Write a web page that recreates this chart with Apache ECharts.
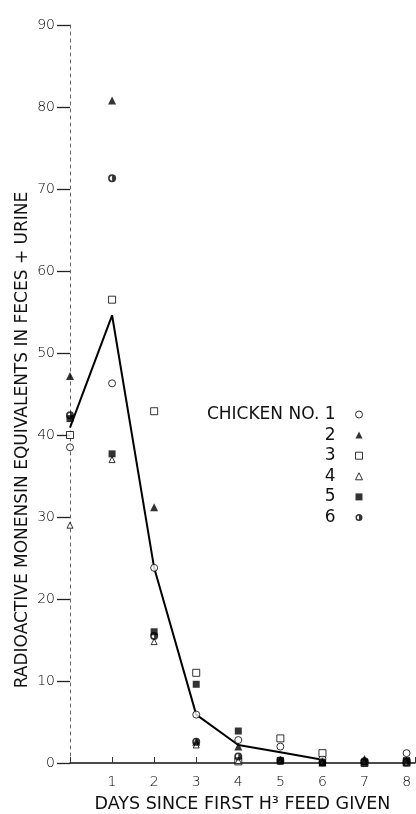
<!DOCTYPE html>
<html>
<head>
<meta charset="utf-8">
<script src="https://cdn.jsdelivr.net/npm/echarts@6/dist/echarts.min.js"></script>
<style>
html,body{margin:0;padding:0;background:#fff;}
#chart{width:416px;height:814px;}
</style>
</head>
<body>
<div id="chart"></div>
<script>
// ---- data ----
const days = [0, 1, 2, 3, 4, 5, 6, 7, 8];
const chicken1 = [38.5, 46.3, 23.8, 5.9, 2.8, 2.0, 0.5, 0.0, 1.2];
const chicken2 = [47.2, 80.8, 31.2, 2.6, 2.0, 0.4, 0.1, 0.5, 0.1];
const chicken3 = [40.0, 56.5, 42.9, 11.0, 0.2, 3.0, 1.2, 0.0, 0.1];
const chicken4 = [29.0, 37.0, 14.8, 2.2, 0.3, 0.2, 0.1, 0.1, 0.0];
const chicken5 = [42.0, 37.7, 16.0, 9.6, 3.9, 0.3, 0.0, 0.1, 0.3];
const chicken6 = [42.4, 71.3, 15.5, 2.6, 0.8, 0.3, 0.1, 0.2, 0.1];
const meanDays = [0, 1, 2, 3, 4, 5, 6];
const meanValues = [40.9, 54.6, 23.8, 5.9, 2.2, 1.3, 0.4];
const chickenNames = ['1', '2', '3', '4', '5', '6'];
const yTicks = [0, 10, 20, 30, 40, 50, 60, 70, 80, 90];
const xTicks = [1, 2, 3, 4, 5, 6, 7, 8];

const yTitle = 'RADIOACTIVE MONENSIN EQUIVALENTS IN FECES + URINE';
const xTitle = 'DAYS SINCE FIRST H\u00B3 FEED GIVEN';

const halfCircle = 'path://M0,-10A10,10,0,1,1,0,10A10,10,0,1,1,0,-10ZM0,-6A6,6,0,1,0,0,6A6,6,0,1,0,0,-6ZM0,-6A6,6,0,0,1,0,6Z';

const pairs = arr => days.map((d, i) => [d, arr[i]]);
const open = {color: '#fff', borderColor: '#000', borderWidth: 1};
const filled = {color: '#000', borderWidth: 0};

const seriesDefs = [
  {name: chickenNames[0], data: chicken1, symbol: 'circle', symbolSize: 7, itemStyle: open},
  {name: chickenNames[1], data: chicken2, symbol: 'triangle', symbolSize: 8, itemStyle: filled},
  {name: chickenNames[2], data: chicken3, symbol: 'rect', symbolSize: 7, itemStyle: open},
  {name: chickenNames[3], data: chicken4, symbol: 'triangle', symbolSize: 6, itemStyle: open},
  {name: chickenNames[4], data: chicken5, symbol: 'rect', symbolSize: 7, itemStyle: filled},
  {name: chickenNames[5], data: chicken6, symbol: halfCircle, symbolSize: 8, itemStyle: filled}
];

const FONT = 'DejaVu Sans';

const chart = echarts.init(document.getElementById('chart'), null, {renderer: 'canvas'});
chart.setOption({
  backgroundColor: '#fff',
  animation: false,
  grid: {left: 70, right: 1, top: 25, bottom: 51, outerBoundsMode: 'none'},
  xAxis: {
    type: 'value', min: 0, max: 8.2, interval: 1,
    name: xTitle, nameLocation: 'middle', nameGap: 32,
    nameTextStyle: {fontFamily: FONT, fontSize: 17.5, color: '#111'},
    axisLine: {show: true, lineStyle: {color: '#111', width: 1.5}},
    axisTick: {show: true, inside: true, length: 6, lineStyle: {color: '#333', width: 1}},
    axisLabel: {
      margin: 12, fontFamily: FONT, fontWeight: 200, fontSize: 14, color: '#000',
      formatter: v => (xTicks.indexOf(v) >= 0 ? String(v) : '')
    },
    splitLine: {show: false}
  },
  yAxis: {
    type: 'value', min: 0, max: 90, interval: 10,
    axisLine: {show: true, lineStyle: {color: '#666', width: 1, type: [3, 4]}},
    axisTick: {show: true, inside: false, length: 13, lineStyle: {color: '#222', width: 1.3}},
    axisLabel: {
      margin: 15, fontFamily: FONT, fontWeight: 200, fontSize: 14, color: '#000',
      formatter: v => (yTicks.indexOf(v) >= 0 ? String(v) : '')
    },
    splitLine: {show: false}
  },
  legend: {
    orient: 'vertical', align: 'right', right: 53, top: 406, padding: 0,
    itemWidth: 7, itemHeight: 7, itemGap: 3.6,
    selectedMode: false,
    data: chickenNames,
    itemStyle: {borderWidth: 1},
    formatter: n => (n === chickenNames[0] ? 'CHICKEN NO. ' + n : n),
    textStyle: {fontFamily: FONT, fontSize: 17, lineHeight: 14, color: '#111', padding: [0, 15, 0, 0]}
  },
  graphic: [{
    type: 'text', x: 23, y: 440, rotation: Math.PI / 2,
    style: {text: yTitle, fontFamily: FONT, fontSize: 17, fill: '#111', align: 'center', verticalAlign: 'middle'}
  }],
  series: [
    {
      name: 'mean', type: 'line', data: meanDays.map((d, i) => [d, meanValues[i]]),
      symbol: 'none', lineStyle: {color: '#000', width: 2}, z: 2, silent: true
    }
  ].concat(seriesDefs.map(s => ({
    name: s.name, type: 'scatter', data: pairs(s.data), clip: false,
    symbol: s.symbol, symbolSize: s.symbolSize, itemStyle: s.itemStyle, z: 3
  })))
});
</script>
</body>
</html>
